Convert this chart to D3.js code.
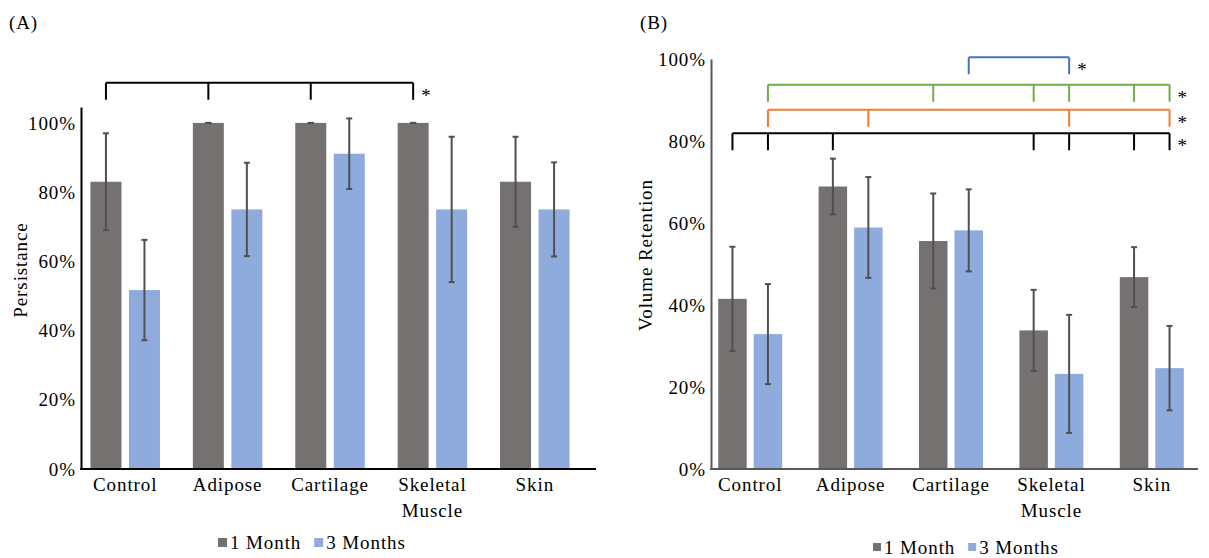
<!DOCTYPE html>
<html>
<head>
<meta charset="utf-8">
<script src="https://cdn.jsdelivr.net/npm/d3@7"></script>
<style>
body { margin: 0; background: #fff; }
svg text { font-family: "Liberation Serif", "Times New Roman", serif; font-size: 19px; letter-spacing: 0.9px; fill: #000; }
</style>
</head>
<body>
<svg id="chart" width="1209" height="558"></svg>
<script>
const categories = ["Control", "Adipose", "Cartilage", "Skeletal\nMuscle", "Skin"]
const seriesNames = ["1 Month", "3 Months"]
const yTicks = [0, 0.2, 0.4, 0.6, 0.8, 1]

// (A) persistance
const persistMonth1 = [0.83, 1.00, 1.00, 1.00, 0.83]
const persistMonth1Err = [0.14, 0, 0, 0, 0.13]
const persistMonth3 = [0.517, 0.75, 0.911, 0.75, 0.75]
const persistMonth3Err = [0.145, 0.135, 0.102, 0.21, 0.136]

// (B) volume retention
const volMonth1 = [0.415, 0.689, 0.556, 0.338, 0.468]
const volMonth1Err = [0.127, 0.068, 0.116, 0.099, 0.073]
const volMonth3 = [0.329, 0.589, 0.582, 0.232, 0.246]
const volMonth3Err = [0.122, 0.123, 0.10, 0.144, 0.103]

// significance brackets, each drop is [category, series]
const sigA = [
    [[0, 0], [1, 0], [2, 0], [3, 0]]
]
const sigB = [
    [[2, 1], [3, 1]],
    [[0, 1], [2, 0], [3, 0], [3, 1], [4, 0], [4, 1]],
    [[0, 1], [1, 1], [3, 1], [4, 1]],
    [[0, 0], [0, 1], [1, 0], [3, 0], [3, 1], [4, 0], [4, 1]]
]

const colors = ["#767171", "#8FAADC"]
const svg = d3.select("#chart")

function panel(o) {
    const g = svg.append("g")
    const x0 = d3.scaleBand().domain(categories).range(o.xRange)
    const x1 = d3.scaleBand().domain(seriesNames).range([0, x0.bandwidth()])
        .paddingInner(o.pin).paddingOuter(o.pout)
    const y = d3.scaleLinear().domain([0, o.yMax]).range([469, o.yTop])
    const barX = (c, s) => x0(categories[c]) + x1(seriesNames[s])
    const mid = (c, s) => barX(c, s) + x1.bandwidth() / 2

    // bars
    o.values.forEach((vals, s) => {
        g.selectAll(null).data(vals).enter().append("rect")
            .attr("x", (d, i) => barX(i, s))
            .attr("y", d => y(d))
            .attr("width", x1.bandwidth())
            .attr("height", d => y(0) - y(d))
            .attr("fill", colors[s])
    })

    // error bars
    o.values.forEach((vals, s) => {
        const errs = o.errors[s]
        vals.forEach((v, i) => {
            const cx = mid(i, s)
            const eg = g.append("g").attr("stroke", "#505050").attr("stroke-width", 2)
            eg.append("line").attr("x1", cx).attr("x2", cx).attr("y1", y(v - errs[i])).attr("y2", y(v + errs[i]))
            eg.append("line").attr("x1", cx - 3).attr("x2", cx + 3).attr("y1", y(v + errs[i])).attr("y2", y(v + errs[i]))
            eg.append("line").attr("x1", cx - 3).attr("x2", cx + 3).attr("y1", y(v - errs[i])).attr("y2", y(v - errs[i]))
        })
    })

    // y axis
    const ya = g.append("g")
        .attr("transform", "translate(" + o.axisX + ",0)")
        .call(d3.axisLeft(y).tickValues(yTicks).tickFormat(d3.format(".0%")).tickSize(0).tickSizeOuter(0).tickPadding(5))
    ya.select(".domain").attr("stroke", o.axisColor).attr("stroke-width", 2)

    // x axis
    const xa = g.append("g")
        .attr("transform", "translate(0," + y(0) + ")")
        .call(d3.axisBottom(x0).tickSize(0).tickSizeOuter(0))
    xa.select(".domain").remove()
    xa.append("line").attr("x1", o.axisX - 1).attr("x2", o.xEnd)
        .attr("stroke", o.axisColor).attr("stroke-width", 2)
    xa.selectAll(".tick text").each(function (d) {
        const t = d3.select(this).text(null).attr("y", 22).attr("dy", null)
        d.split("\n").forEach((line, k) => {
            t.append("tspan").attr("x", 0).attr("y", 22 + k * 26).text(line)
        })
    })

    // axis title
    g.append("text")
        .attr("transform", "translate(" + o.titleX + "," + o.titleY + ") rotate(-90)")
        .attr("text-anchor", "middle")
        .attr("dy", "0.35em")
        .text(o.yTitle)

    // panel letter
    g.append("text").attr("x", o.letterX).attr("y", 29).text(o.letter)

    // significance brackets
    o.sig.forEach((ticks, b) => {
        const xs = ticks.map(([c, s]) => mid(c, s))
        const yl = y(o.sigLevels[b])
        const path = d3.path()
        path.moveTo(d3.min(xs), yl)
        path.lineTo(d3.max(xs), yl)
        xs.forEach(xx => { path.moveTo(xx, yl); path.lineTo(xx, yl + 17) })
        g.append("path").attr("d", path.toString()).attr("fill", "none")
            .attr("stroke", o.sigColors[b]).attr("stroke-width", 2)
        g.append("text").attr("x", d3.max(xs) + 8).attr("y", yl + 19).text("*")
    })

    // legend
    const lg = g.append("g")
    let lx = o.legendX
    seriesNames.forEach((name, s) => {
        lg.append("rect").attr("x", lx).attr("y", o.legendY - 4).attr("width", o.sq).attr("height", o.sq)
            .attr("fill", colors[s])
        const t = lg.append("text").attr("x", lx + o.sq + 3).attr("y", o.legendY + 6.5).text(name)
        lx += o.sq + 3 + t.node().getComputedTextLength() + 13
    })
}

panel({
    values: [persistMonth1, persistMonth3],
    errors: [persistMonth1Err, persistMonth3Err],
    xRange: [74, 586], pin: 0.195, pout: 0.427,
    yMax: 1.046, yTop: 107, axisX: 81, xEnd: 596, axisColor: "#000",
    yTitle: "Persistance", titleX: 20, titleY: 270,
    letter: "(A)", letterX: 9,
    sig: sigA, sigLevels: [1.116], sigColors: ["#000"],
    legendX: 218, legendY: 542, sq: 9
})

panel({
    values: [volMonth1, volMonth3],
    errors: [volMonth1Err, volMonth3Err],
    xRange: [700, 1202], pin: 0.197, pout: 0.513,
    yMax: 1, yTop: 59, axisX: 711, xEnd: 1198, axisColor: "#595959",
    yTitle: "Volume Retention", titleX: 645, titleY: 255,
    letter: "(B)", letterX: 640,
    sig: sigB, sigLevels: [1.004, 0.937, 0.876, 0.819], sigColors: ["#4472C4", "#70AD47", "#ED7D31", "#000"],
    legendX: 873, legendY: 547, sq: 8
})
</script>
</body>
</html>
